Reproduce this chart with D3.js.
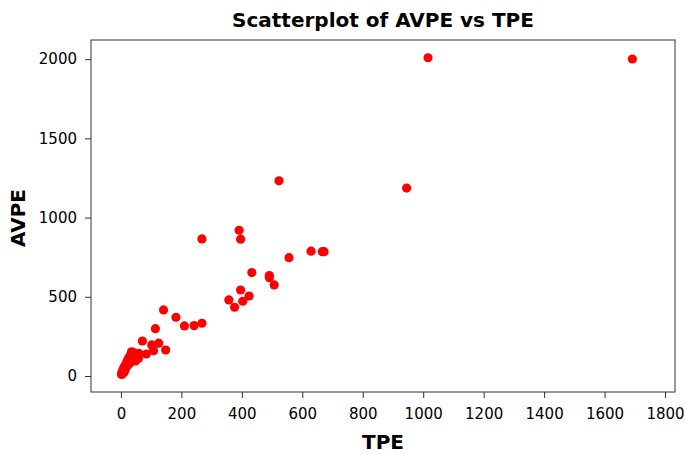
<!DOCTYPE html>
<html>
<head>
<meta charset="utf-8">
<script src="https://cdn.jsdelivr.net/npm/d3@7"></script>
<style>
  body { margin: 0; background: #fff; }
  svg { display: block; }
  text { font-family: "DejaVu Sans", Verdana, sans-serif; fill: #000; }
</style>
</head>
<body>
<svg width="685" height="454"></svg>
<script>
// TPE / AVPE pairs
const tpe = [2, 3, 4, 5, 5, 6, 7, 8, 9, 10, 10, 11, 12, 13, 14, 15, 16, 17, 18, 19, 20, 21, 22, 23, 24, 25, 26, 28, 29, 30, 31, 32, 34, 35, 36, 38, 40, 42, 44, 46, 48, 50, 52, 55, 58,
  59, 35, 84, 108, 102, 125, 71, 148, 141, 182, 114, 210, 242, 268,
  357, 376, 403, 424, 396, 507, 491, 491, 433, 556, 629, 666, 672, 391, 396, 268, 523, 945, 1016, 1692]
const avpe = [10, 15, 20, 12, 28, 35, 22, 40, 30, 45, 55, 25, 50, 38, 65, 48, 70, 58, 80, 62, 90, 75, 100, 68, 85, 110, 95, 120, 80, 105, 130, 92, 115, 140, 100, 125, 150, 110, 135, 120, 95, 130, 105, 120, 110,
  143, 153, 139, 160, 196, 207, 221, 164, 417, 371, 299, 316, 318, 333,
  480, 434, 472, 505, 543, 575, 634, 621, 653, 747, 788, 785, 785, 920, 864, 865, 1232, 1186, 2009, 2001]
const xTicks = [0, 200, 400, 600, 800, 1000, 1200, 1400, 1600, 1800]
const yTicks = [0, 500, 1000, 1500, 2000]

const svg = d3.select('svg')
const plotL = 91, plotR = 675, plotT = 40, plotB = 392

const x = d3.scaleLinear().domain([-99, 1833]).range([plotL, plotR])
const y = d3.scaleLinear().domain([-101, 2121]).range([plotB, plotT])

// frame
svg.append('rect')
  .attr('x', plotL).attr('y', plotT)
  .attr('width', plotR - plotL).attr('height', plotB - plotT)
  .attr('fill', 'none').attr('stroke', '#333').attr('stroke-width', 1)

const xAxis = svg.append('g').attr('transform', `translate(0,${plotB})`)
  .call(d3.axisBottom(x).tickValues(xTicks).tickSize(6).tickPadding(10).tickFormat(d3.format('d')))
const yAxis = svg.append('g').attr('transform', `translate(${plotL},0)`)
  .call(d3.axisLeft(y).tickValues(yTicks).tickSize(6).tickPadding(8).tickFormat(d3.format('d')))

;[xAxis, yAxis].forEach(a => {
  a.select('.domain').remove()
  a.selectAll('line').attr('stroke', '#333')
  a.selectAll('text').style('font-size', '15px').style('font-family', '"DejaVu Sans", Verdana, sans-serif')
})

// points
svg.append('g').selectAll('circle')
  .data(tpe.map((d, i) => [d, avpe[i]]))
  .enter().append('circle')
  .attr('cx', d => x(d[0]))
  .attr('cy', d => y(d[1]))
  .attr('r', 4.6)
  .attr('fill', '#ff0000')

// titles
svg.append('text').attr('x', 383).attr('y', 27).attr('text-anchor', 'middle')
  .style('font-size', '20px').style('font-weight', 'bold').text('Scatterplot of AVPE vs TPE')
svg.append('text').attr('x', 383).attr('y', 449).attr('text-anchor', 'middle')
  .style('font-size', '20px').style('font-weight', 'bold').text('TPE')
svg.append('text').attr('transform', 'translate(25,218) rotate(-90)').attr('text-anchor', 'middle')
  .style('font-size', '20px').style('font-weight', 'bold').text('AVPE')
</script>
</body>
</html>
